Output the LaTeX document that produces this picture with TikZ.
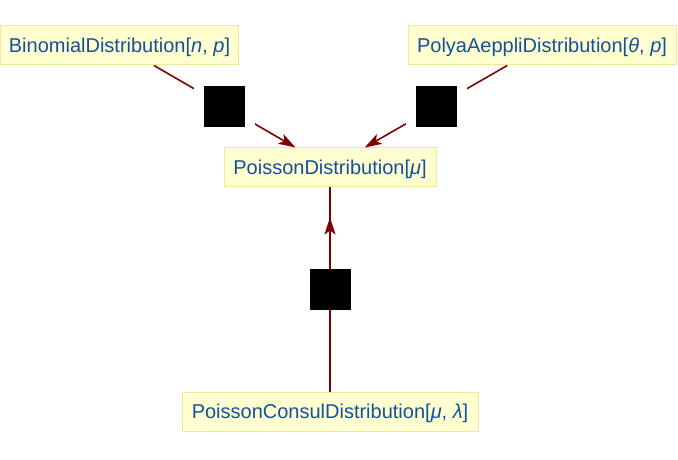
\documentclass[tikz,border=0pt]{standalone}
\usepackage{fontspec}
\setmainfont{Liberation Sans}
\usetikzlibrary{arrows.meta,decorations.markings}
\definecolor{boxfill}{RGB}{255,255,208}
\definecolor{boxdraw}{RGB}{240,232,160}
\definecolor{labelblue}{RGB}{20,80,160}
\definecolor{edgered}{RGB}{128,0,0}
\begin{document}
\begin{tikzpicture}[x=1bp,y=-1bp,
  dist/.style={draw=boxdraw, fill=boxfill, line width=1bp, text=labelblue,
    font=\fontsize{20bp}{24bp}\selectfont, minimum height=39bp, inner xsep=0pt,
    text height=14.4bp, text depth=0bp},
  sqgap/.style={fill=black, draw=white, line width=10bp, minimum size=51bp, inner sep=0pt},
  sqbox/.style={fill=black, minimum size=41bp, inner sep=0pt},
  edge/.style={color=edgered, line width=1.6bp},
  tipend/.style={-{Stealth[length=17bp,width=11bp,inset=4bp]}},
  midtip/.style={postaction={decorate}, decoration={markings,
    mark=at position -30bp with {\arrow{Stealth[length=17bp,width=11bp,inset=4bp]}}}}
]
\useasboundingbox (0,0) rectangle (678,460);
\node[dist, minimum width=237bp] (bin) at (119.5,45.5) {BinomialDistribution[\textit{n}, \textit{p}]};
\node[dist, minimum width=268bp] (pol) at (542,45.5) {PolyaAeppliDistribution[\textit{θ}, \textit{p}]};
\node[dist, minimum width=212bp] (poi) at (330,167.5) {PoissonDistribution[\textit{μ}]};
\node[dist, minimum width=296bp] (con) at (330,411.5) {PoissonConsulDistribution[\textit{μ}, \textit{λ}]};
\draw[edge, tipend] (bin) -- (poi);
\draw[edge, tipend] (pol) -- (poi);
\draw[edge, midtip] (con) -- (poi);
\path (bin) -- node[sqgap] (s1) {} (poi);
\path (pol) -- node[sqgap] (s2) {} (poi);
\path (con) -- node[sqbox] (s3) {} (poi);
\end{tikzpicture}
\end{document}
